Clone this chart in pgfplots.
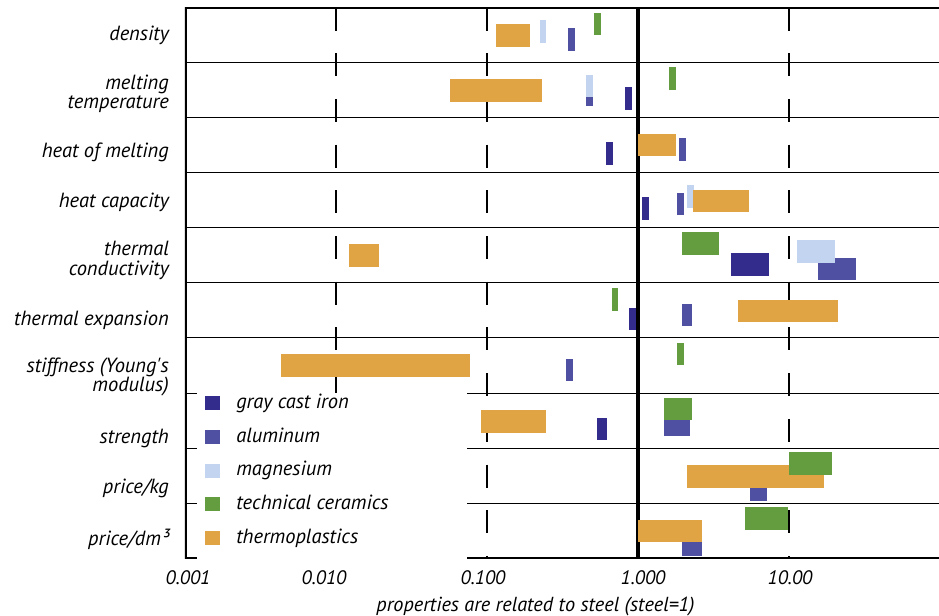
\documentclass[border=0pt]{standalone}
\usepackage{fontspec}
\setmainfont{PT Sans}
\usepackage{pgfplots}
\pgfplotsset{compat=1.18}
\definecolor{cgci}{HTML}{332C8C}
\definecolor{cal}{HTML}{5050A2}
\definecolor{cmg}{HTML}{C3D4F0}
\definecolor{ccer}{HTML}{649D3F}
\definecolor{ctp}{HTML}{E0A444}
\newcommand{\bx}[5]{\addplot[fill=#1,draw=none,forget plot] coordinates {(#2,#4) (#3,#4) (#3,#5) (#2,#5)} -- cycle;}
\begin{document}
\begin{tikzpicture}
\begin{axis}[
  scale only axis, width=755bp, height=550.8bp,
  xmode=log, xmin=0.001, xmax=100, ymin=0, ymax=10, y dir=reverse,
  axis line style={draw=none},
  xtick={0.001047,0.00833,0.0941,1.079,10.15},
  xticklabels={0.001,0.010,0.100,1.000,10.00},
  ytick={0.51,1.57,2.63,3.53,4.59,5.68,6.71,7.82,8.73,9.65},
  yticklabels={density,{melting\\temperature},heat of melting,heat capacity,{thermal\\conductivity},thermal expansion,{stiffness (Young\textquotesingle s\\modulus)},strength,price/kg,price/dm³},
  minor ytick={1,2,3,4,5,6,7,8,9},
  yminorgrids, minor grid style={black, line width=1bp},
  major tick length=0, minor tick length=0,
  yticklabel style={font=\itshape\fontsize{20.5bp}{19.5bp}\selectfont, align=right, inner sep=0pt, xshift=-16bp},
  xticklabel style={font=\itshape\fontsize{19.5bp}{20bp}\selectfont, inner sep=0pt, yshift=-12bp},
  xlabel={properties are related to steel (steel=1)},
  xlabel style={font=\itshape\fontsize{20.3bp}{22bp}\selectfont, xshift=-27bp, yshift=-9bp},
  legend image code/.code={\fill[#1] (0bp,-1bp) rectangle (15bp,13bp);},
  legend cell align=left,
  legend style={draw=none, fill=white, inner xsep=8bp, inner ysep=0pt,
    at={(axis description cs:0.016,0.300)}, anchor=north west,
    row sep=2.3bp, column sep=16bp,
    nodes={inner sep=0pt, text height=15bp, text depth=16.5bp},
    font=\itshape\fontsize{20.5bp}{22bp}\selectfont},
]
\addlegendimage{fill=cgci, draw=none}
\addlegendimage{fill=cal, draw=none}
\addlegendimage{fill=cmg, draw=none}
\addlegendimage{fill=ccer, draw=none}
\addlegendimage{fill=ctp, draw=none}
% grid lines
\addplot[black, line width=1.3bp, dash pattern=on 23bp off 22.7bp, forget plot] coordinates {(0.01,0) (0.01,10)};
\addplot[black, line width=1.3bp, dash pattern=on 23bp off 22.7bp, forget plot] coordinates {(0.1,0) (0.1,10)};
\addplot[black, line width=1.3bp, dash pattern=on 23bp off 22.7bp, forget plot] coordinates {(10,0) (10,10)};
\addplot[black, line width=4.5bp, forget plot] coordinates {(1,0) (1,10)};
% aluminum
\bx{cal}{0.344}{0.383}{0.372}{0.790}
\bx{cal}{0.453}{0.503}{1.389}{1.788}
\bx{cal}{1.87}{2.08}{2.369}{2.787}
\bx{cal}{1.81}{2.02}{3.368}{3.768}
\bx{cal}{15.6}{27.8}{4.548}{4.948}
\bx{cal}{1.96}{2.28}{5.383}{5.782}
\bx{cal}{0.334}{0.371}{6.382}{6.781}
\bx{cal}{1.49}{2.21}{7.380}{7.779}
\bx{cal}{5.52}{7.15}{8.560}{8.960}
\bx{cal}{1.96}{2.65}{9.541}{9.958}
% magnesium
\bx{cmg}{0.224}{0.246}{0.227}{0.645}
\bx{cmg}{0.453}{0.503}{1.225}{1.625}
\bx{cmg}{2.11}{2.35}{3.223}{3.640}
\bx{cmg}{11.3}{20.2}{4.221}{4.639}
% gray cast iron
\bx{cgci}{0.82}{0.91}{1.443}{1.861}
\bx{cgci}{0.614}{0.683}{2.442}{2.860}
\bx{cgci}{1.06}{1.18}{3.440}{3.858}
\bx{cgci}{4.13}{7.38}{4.458}{4.875}
\bx{cgci}{0.871}{0.97}{5.456}{5.855}
\bx{cgci}{0.535}{0.624}{7.452}{7.852}
% thermoplastics
\bx{ctp}{0.115}{0.193}{0.300}{0.717}
\bx{ctp}{0.0569}{0.231}{1.298}{1.710}
\bx{ctp}{1.0}{1.79}{2.297}{2.691}
\bx{ctp}{2.31}{5.43}{3.313}{3.713}
\bx{ctp}{0.0122}{0.0193}{4.294}{4.711}
\bx{ctp}{4.59}{21.1}{5.310}{5.710}
\bx{ctp}{0.00432}{0.0771}{6.291}{6.709}
\bx{ctp}{0.0912}{0.246}{7.307}{7.725}
\bx{ctp}{2.11}{17.1}{8.306}{8.723}
\bx{ctp}{1.0}{2.65}{9.305}{9.704}
% technical ceramics
\bx{ccer}{0.511}{0.569}{0.100}{0.499}
\bx{ccer}{1.60}{1.79}{1.080}{1.498}
\bx{ccer}{1.96}{3.44}{4.076}{4.494}
\bx{ccer}{0.673}{0.737}{5.093}{5.510}
\bx{ccer}{1.81}{2.02}{6.092}{6.491}
\bx{ccer}{1.49}{2.28}{7.090}{7.489}
\bx{ccer}{10.0}{19.3}{8.070}{8.488}
\bx{ccer}{5.12}{9.85}{9.069}{9.487}
\legend{\makebox[223bp][l]{gray cast iron},aluminum,magnesium,technical ceramics,thermoplastics}
\draw[black, line width=3.5bp, line join=miter] (rel axis cs:1,0) -- (rel axis cs:0,0) -- (rel axis cs:0,1) -- (rel axis cs:1,1);
\end{axis}
\pgfresetboundingbox
\path[use as bounding box] (current axis.south west) ++(-185bp,-57.7bp) rectangle ++(939bp,616bp);
\end{tikzpicture}
\end{document}
